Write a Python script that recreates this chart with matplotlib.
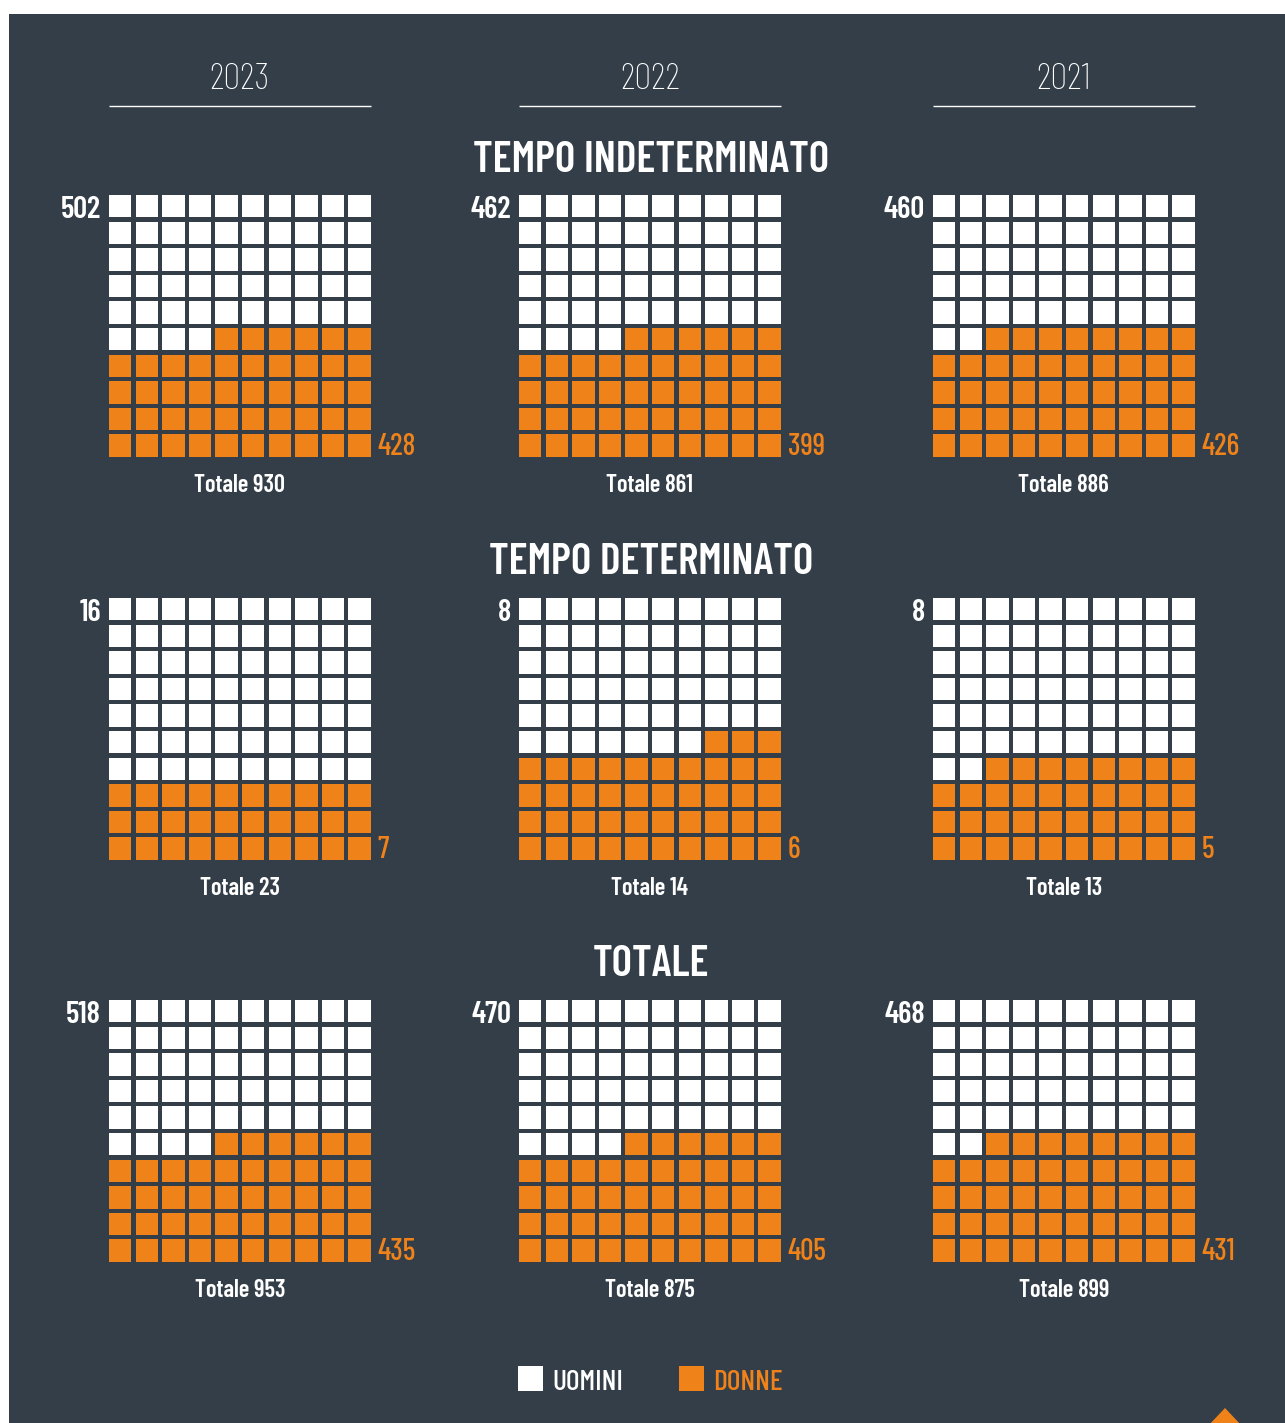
import matplotlib
matplotlib.use("Agg")
import matplotlib.pyplot as plt
from matplotlib.patches import Rectangle, Polygon

# ---------------- data ----------------
years = ["2023", "2022", "2021"]
sections = ["TEMPO INDETERMINATO", "TEMPO DETERMINATO", "TOTALE"]
uomini_indet = [502, 462, 460]
donne_indet = [428, 399, 426]
totale_indet = [930, 861, 886]
uomini_det = [16, 8, 8]
donne_det = [7, 6, 5]
totale_det = [23, 14, 13]
uomini_tot = [518, 470, 468]
donne_tot = [435, 405, 431]
totale_tot = [953, 875, 899]
legend_labels = ["UOMINI", "DONNE"]

uomini = [uomini_indet, uomini_det, uomini_tot]
donne = [donne_indet, donne_det, donne_tot]
totale = [totale_indet, totale_det, totale_tot]

# ---------------- style ----------------
BG = "#333e48"
ORANGE = "#f0821a"
WHITE = "#ffffff"
FONT = ["Barlow Condensed", "Roboto Condensed", "Oswald", "DejaVu Sans"]

W, H = 1285, 1423
fig = plt.figure(figsize=(W / 100, H / 100), dpi=100, facecolor="white")
ax = fig.add_axes([0, 0, 1, 1])
ax.set_xlim(0, W)
ax.set_ylim(H, 0)
ax.axis("off")

ax.add_patch(Rectangle((9, 14), W - 9, H - 14, facecolor=BG, edgecolor="none"))

renderer = fig.canvas.get_renderer()


def size_for(s, width, weight, size=20):
    t = ax.text(0, 0, s, fontweight=weight, fontsize=size, family=FONT)
    bb = t.get_window_extent(renderer=renderer)
    t.remove()
    return size * width / bb.width


def put(x, y, s, size, ha="center", color=WHITE, weight=500):
    return ax.text(x, y, s, ha=ha, va="baseline", color=color,
                   fontweight=weight, fontsize=size, family=FONT)


grid_x = [109, 519, 933]
grid_y = [195, 598, 1000]
pitch = 26.6
cell = 22.3
gw = 9 * pitch + cell

fs_year = size_for("2023", 60, 200)
fs_left = size_for("502", 40, 600)
fs_right = size_for("428", 38, 500)
fs_tot = size_for("Totale 930", 91, 600)
fs_sec = size_for(sections[0], 355, 600)
fs_leg = size_for("UOMINI", 71, 500)

# year headers
for j, yr in enumerate(years):
    cx = grid_x[j] + gw / 2
    put(cx, 89, yr, fs_year, weight=200)
    ax.plot([grid_x[j], grid_x[j] + gw], [106, 106], color=WHITE, lw=1.0,
            solid_capstyle="butt")

section_base = [172, 574, 976]

for i, sec in enumerate(sections):
    put(651, section_base[i], sec, fs_sec, weight=600)
    for j in range(3):
        gx, gy = grid_x[j], grid_y[i]
        n_or = round(100 * donne[i][j] / totale[i][j])
        for k in range(100):
            r, c = divmod(k, 10)
            col = ORANGE if k >= 100 - n_or else WHITE
            ax.add_patch(Rectangle((gx + c * pitch, gy + r * pitch), cell, cell,
                                   facecolor=col, edgecolor="none"))
        # men count (left, top)
        put(gx - 8, gy + 23, str(uomini[i][j]), fs_left, ha="right", weight=600)
        # women count (right, bottom)
        put(gx + gw + 7, gy + gw - 2, str(donne[i][j]), fs_right, ha="left",
            color=ORANGE)
        # total
        put(gx + gw / 2, gy + gw + 35, "Totale %d" % totale[i][j], fs_tot,
            weight=600)

# legend
ax.add_patch(Rectangle((518, 1366), 25, 25, facecolor=WHITE, edgecolor="none"))
put(552, 1390, legend_labels[0], fs_leg, ha="left")
ax.add_patch(Rectangle((679, 1366), 25, 25, facecolor=ORANGE, edgecolor="none"))
put(713, 1390, legend_labels[1], fs_leg, ha="left", color=ORANGE)

# decorative triangle bottom right
ax.add_patch(Polygon([(1225, 1408), (1208, 1426), (1242, 1426)], closed=True,
                     facecolor=ORANGE, edgecolor="none"))

fig.savefig("out.png", dpi=100, facecolor="white")
